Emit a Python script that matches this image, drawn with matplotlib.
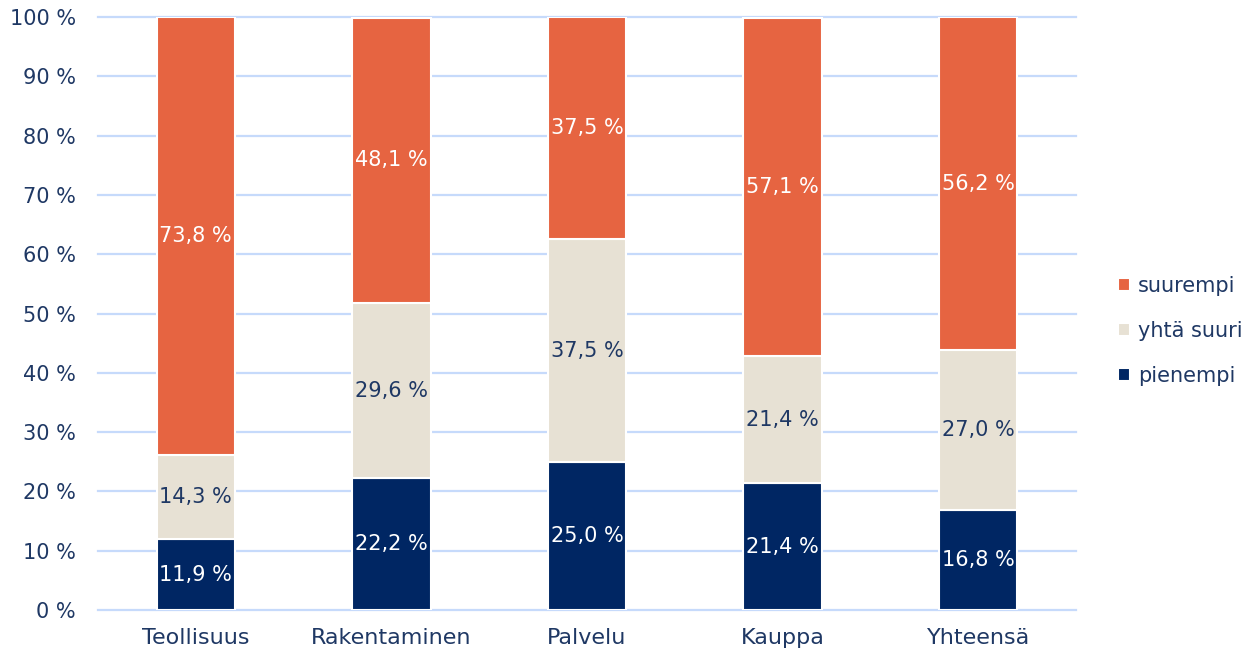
import matplotlib.pyplot as plt
import numpy as np

# =========================
# DATA
# =========================
kategoriat = ["Teollisuus", "Rakentaminen", "Palvelu", "Kauppa", "Yhteensä"]
pienempi = [11.9, 22.2, 25.0, 21.4, 16.8]
yhta_suuri = [14.3, 29.6, 37.5, 21.4, 27.0]
suurempi = [73.8, 48.1, 37.5, 57.1, 56.2]

# =========================
# STYLE
# =========================
NAVY = "#002663"
BEIGE = "#E7E1D4"
ORANGE = "#E66441"
TEXT = "#1F3864"
GRID = "#C6DAFB"
FS = 15

plt.rcParams["font.family"] = ["DejaVu Sans"]

fig = plt.figure(figsize=(12.5, 6.54), dpi=100)
ax = fig.add_axes([98 / 1250, 44 / 654, 978 / 1250, 593 / 654])

x = np.arange(len(kategoriat))
leveys = 0.4

sarjat = [
    ("pienempi", pienempi, NAVY, "white"),
    ("yhtä suuri", yhta_suuri, BEIGE, TEXT),
    ("suurempi", suurempi, ORANGE, "white"),
]

pohja = np.zeros(len(kategoriat))
palkit = []
for nimi, arvot, vari, tekstivari in sarjat:
    arvot = np.array(arvot)
    b = ax.bar(x, arvot, leveys, bottom=pohja, color=vari, edgecolor="white",
               linewidth=1.5, label=nimi, zorder=3)
    palkit.append(b)
    for xi, y0, v in zip(x, pohja, arvot):
        ax.text(xi, y0 + v / 2, f"{v:.1f} %".replace(".", ","), ha="center",
                va="center", color=tekstivari, fontsize=FS, zorder=4)
    pohja = pohja + arvot

ax.set_xlim(-0.5, len(kategoriat) - 0.5)
ax.set_ylim(0, 100)
ax.set_yticks(range(0, 101, 10))
ax.set_yticklabels([f"{t} %" for t in range(0, 101, 10)])
ax.set_xticks(x)
ax.set_xticklabels(kategoriat)
ax.tick_params(axis="both", length=0, labelsize=FS, colors=TEXT)
ax.tick_params(axis="x", pad=13, labelsize=16)
ax.tick_params(axis="y", pad=16)
ax.grid(axis="y", color=GRID, linewidth=1.6, zorder=0)
for viiva in ax.get_ygridlines():
    viiva.set_clip_on(False)
for s in ax.spines.values():
    s.set_visible(False)

handles = palkit[::-1]
leg = fig.legend(handles, ["suurempi", "yhtä suuri", "pienempi"],
                 loc="center left", bbox_to_anchor=(1108 / 1250, 323 / 654),
                 frameon=False, fontsize=FS, handlelength=0.55, handleheight=0.55,
                 handletextpad=0.4, labelspacing=1.2, borderpad=0)
for t in leg.get_texts():
    t.set_color(TEXT)

plt.savefig("out.png", dpi=100)
